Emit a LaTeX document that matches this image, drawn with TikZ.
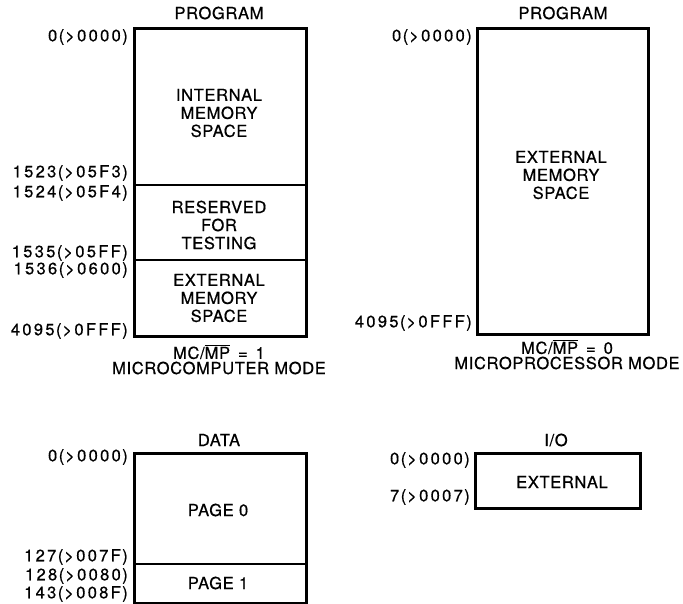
\documentclass[tikz,border=0pt]{standalone}
\usepackage{fontspec}
\setmainfont{TeX Gyre Heros}[LetterSpace=4,FakeBold=0.6]
\newfontfamily\addrfont{TeX Gyre Heros}[LetterSpace=14,FakeBold=0.6]
\newcommand\fsz{\fontsize{16.5}{18}\selectfont}
\newcommand\pa[1]{\kern1.5pt(\kern1pt>#1\kern1.5pt)}
\newcommand\mpbar{MC/$\overline{\mbox{MP}}$}
\tikzset{
  membox/.style={draw, line width=2.6pt, inner sep=0pt, anchor=north west},
  addr/.style={anchor=east, inner sep=0pt, font=\addrfont\fsz},
  txt/.style={align=center, inner sep=0pt, font=\fsz},
  divline/.style={line width=2.6pt}
}
\begin{document}
\begin{tikzpicture}[x=1pt,y=-1pt]
\useasboundingbox (0,0) rectangle (683,604);
% ---------- Program, microcomputer mode ----------
\node[membox, minimum width=172pt, minimum height=308pt] (pc) at (133,27) {};
\coordinate (d1l) at (133,185); \coordinate (d1r) at (305,185);
\coordinate (d2l) at (133,260); \coordinate (d2r) at (305,260);
\draw[divline] (d1l) -- (d1r);
\draw[divline] (d2l) -- (d2r);
\node[txt] (pct) at (219,13) {PROGRAM};
\node[txt] (int) at (219,113) {INTERNAL\\MEMORY\\SPACE};
\node[txt] (res) at (219,225) {RESERVED\\FOR\\TESTING};
\node[txt] (ext1) at (219,298) {EXTERNAL\\MEMORY\\SPACE};
\node[addr] (a1) at (128,37) {0\pa{0000}};
\node[addr] (a2) at (128,173) {1523\pa{05F3}};
\node[addr] (a3) at (128,193) {1524\pa{05F4}};
\node[addr] (a4) at (128,253) {1535\pa{05FF}};
\node[addr] (a5) at (128,270) {1536\pa{0600}};
\node[addr] (a6) at (128,331) {4095\pa{0FFF}};
\node[txt] (m1) at (219,352) {\mpbar\ \,=\ \,1};
\node[txt] (m1b) at (219,368) {MICROCOMPUTER MODE};
% ---------- Program, microprocessor mode ----------
\node[membox, minimum width=171pt, minimum height=306pt] (pp) at (476,27) {};
\node[txt] (ppt) at (563,13) {PROGRAM};
\node[txt] (ext2) at (561,175) {EXTERNAL\\MEMORY\\SPACE};
\node[addr] (b1) at (472,37) {0\pa{0000}};
\node[addr] (b2) at (472,323) {4095\pa{0FFF}};
\node[txt] (m2) at (567,347) {\mpbar\ \,=\ \,0};
\node[txt] (m2b) at (567,363) {MICROPROCESSOR MODE};
% ---------- Data ----------
\node[membox, minimum width=172pt, minimum height=150pt] (dt) at (133,452) {};
\coordinate (d3l) at (133,564); \coordinate (d3r) at (305,564);
\draw[divline] (d3l) -- (d3r);
\node[txt] (dtt) at (219,440) {DATA};
\node[txt] (pg0) at (218,510) {PAGE 0};
\node[txt] (pg1) at (218,583) {PAGE 1};
\node[addr] (c1) at (128,457) {0\pa{0000}};
\node[addr] (c2) at (128,557) {127\pa{007F}};
\node[addr] (c3) at (128,576) {128\pa{0080}};
\node[addr] (c4) at (128,594) {143\pa{008F}};
% ---------- I/O ----------
\node[membox, minimum width=165pt, minimum height=55pt] (io) at (474,452) {};
\node[txt] (iot) at (556,440) {I/O};
\node[txt] (ioe) at (562,482) {EXTERNAL};
\node[addr] (e1) at (470,460) {0\pa{0000}};
\node[addr] (e2) at (470,497) {7\pa{0007}};
\end{tikzpicture}
\end{document}
